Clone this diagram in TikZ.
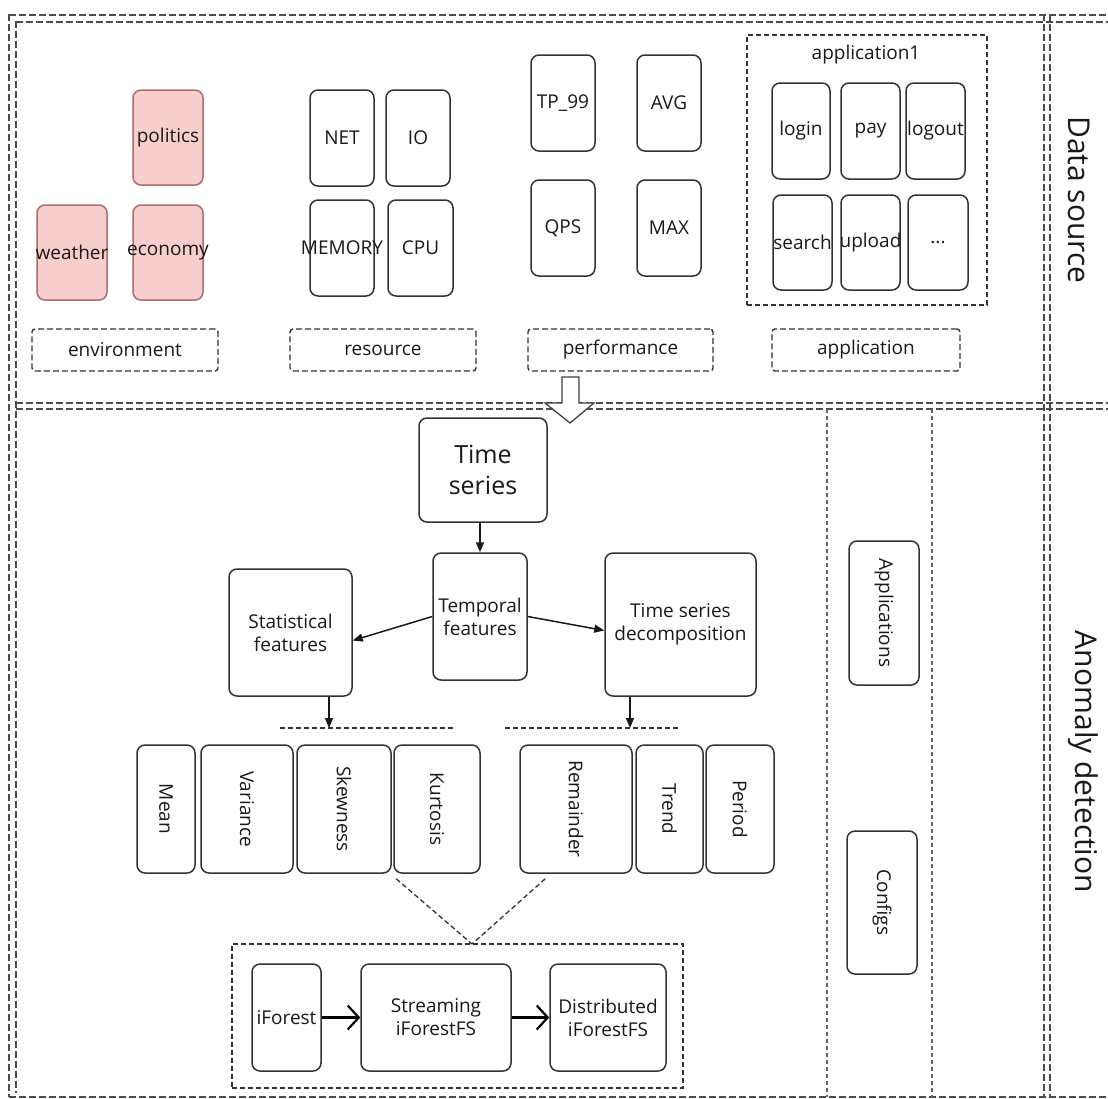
\documentclass[tikz,border=0pt]{standalone}
\usepackage{fontspec}
\setmainfont{Open Sans}
\usetikzlibrary{arrows.meta,calc}
\tikzset{
 box/.style={draw=black!80, line width=1.5pt, rounded corners=8pt, inner sep=0pt, fill=white},
 pinkbox/.style={box, draw={rgb,255:red,170;green,110;blue,110}, fill={rgb,255:red,248;green,206;blue,204}},
 tagbox/.style={draw=black!80, line width=1.4pt, dash pattern=on 6pt off 3pt, rounded corners=3pt, inner sep=0pt},
 grpbox/.style={draw=black!80, line width=1.4pt, dash pattern=on 5pt off 3pt, inner sep=0pt},
 lbl/.style={font=\fontsize{19}{23}\selectfont, text=black!90, inner sep=0pt, align=center},
 outerline/.style={draw=black!70, line width=1.6pt, dash pattern=on 7pt off 3pt},
 lane/.style={draw=black!60, line width=1.4pt, dash pattern=on 4pt off 3pt},
 thindash/.style={draw=black!80, line width=1.3pt, dash pattern=on 5pt off 3pt},
 arr/.style={draw=black!90, line width=1.5pt, -{Triangle[length=10pt,width=8pt]}},
 barr/.style={draw=black, line width=2.8pt, -{Straight Barb[length=11pt,width=24pt,line width=2.2pt]}},
 sectitle/.style={font=\fontsize{30}{36}\selectfont, rotate=-90, inner sep=0pt, text=black!90},
}
\newcommand{\bx}[7]{\node[#1, minimum width={#5-#3}, minimum height={#6-#4}] (#2) at ({(#3+#5)/2},{(#4+#6)/2}) {};
 \node[lbl] (#2t) at (#2.center) {#7};}
\newcommand{\rbx}[7]{\node[#1, minimum width={#5-#3}, minimum height={#6-#4}] (#2) at ({(#3+#5)/2},{(#4+#6)/2}) {};
 \node[lbl, rotate=-90] (#2t) at (#2.center) {#7};}
\begin{document}
\begin{tikzpicture}[x=1pt,y=-1pt]
\useasboundingbox (0,0) rectangle (1108,1098);
% frame lines
\draw[outerline] (9,14) -- (9,1097);
\draw[outerline] (16,21) -- (16,1093);
\draw[outerline] (9,15) -- (1108,15);
\draw[outerline] (16,22) -- (1108,22);
\draw[outerline] (16,403) -- (1108,403);
\draw[outerline] (16,409) -- (1108,409);
\draw[outerline] (9,1097) -- (1108,1097);
\draw[outerline] (1044,14) -- (1044,1097);
\draw[outerline] (1050,14) -- (1050,1097);
\draw[lane] (827,409) -- (827,1097);
\draw[lane] (932,409) -- (932,1097);
% titles
\node[sectitle] (ds) at (1079,200) {Data source};
\node[sectitle] (ad) at (1083,762) {Anomaly detection};
% environment
\bx{pinkbox}{pol}{133}{90}{203}{185}{politics}
\bx{pinkbox}{wea}{37}{205}{107}{300}{weather}
\bx{pinkbox}{eco}{133}{205}{203}{300}{economy}
\bx{tagbox}{env}{32}{329}{218}{371}{environment}
% resource
\bx{box}{net}{310}{90}{374}{186}{NET}
\bx{box}{io}{386}{90}{450}{186}{IO}
\bx{box}{mem}{310}{200}{374}{296}{MEMORY}
\bx{box}{cpu}{388}{200}{453}{296}{CPU}
\bx{tagbox}{res}{290}{329}{476}{371}{resource}
% performance
\bx{box}{tp}{531}{55}{595}{151}{TP\_99}
\bx{box}{avg}{637}{55}{701}{151}{AVG}
\bx{box}{qps}{531}{180}{595}{276}{QPS}
\bx{box}{max}{637}{180}{701}{276}{MAX}
\bx{tagbox}{perf}{528}{329}{713}{371}{performance}
% application
\bx{grpbox}{appone}{747}{35}{987}{305}{}
\node[lbl] (apponet) at (866,55) {application1};
\bx{box}{login}{772}{83}{830}{179}{login}
\bx{box}{pay}{841}{83}{900}{179}{pay}
\bx{box}{logout}{906}{83}{965}{179}{logout}
\bx{box}{search}{773}{195}{832}{290}{search}
\bx{box}{upload}{841}{195}{900}{290}{upload}
\bx{box}{more}{908}{195}{968}{290}{...}
\bx{tagbox}{app}{772}{329}{960}{371}{application}
% hollow arrow
\draw[draw=black!75, line width=1.3pt, fill=white] (562,377) -- (579,377) -- (579,403) -- (594,403) -- (570,423) -- (545,403) -- (562,403) -- cycle;
% anomaly detection
\bx{box}{ts}{419}{418}{547}{522}{}
\node[lbl, font=\fontsize{25}{31}\selectfont] (tstx) at (ts.center) {Time\\series};
\bx{box}{tf}{433}{553}{527}{680}{Temporal\\features}
\bx{box}{sf}{229}{569}{352}{696}{Statistical\\features}
\bx{box}{tsd}{605}{553}{756}{696}{Time series\\decomposition}
\draw[arr] (tf.north |- ts.south) -- (tf.north);
\draw[arr] (tf.west) -- ([yshift=-8pt]sf.east);
\draw[arr] (tf.east) -- ([yshift=-6pt]tsd.west);
\coordinate (bla) at (280,728);
\coordinate (blb) at (455,728);
\coordinate (bra) at (505,728);
\coordinate (brb) at (680,728);
\draw[thindash] (bla) -- (blb);
\draw[thindash] (bra) -- (brb);
\coordinate (sfa) at (329,728);
\coordinate (tsa) at (630,728);
\draw[arr] (sf.south -| sfa) -- (sfa);
\draw[arr] (tsd.south -| tsa) -- (tsa);
% feature boxes
\rbx{box}{mean}{137}{745}{195}{873}{Mean}
\rbx{box}{var}{201}{745}{293}{873}{Variance}
\rbx{box}{skew}{297}{745}{391}{873}{Skewness}
\rbx{box}{kurt}{394}{745}{480}{873}{Kurtosis}
\rbx{box}{rem}{520}{745}{632}{873}{Remainder}
\rbx{box}{trend}{636}{745}{703}{873}{Trend}
\rbx{box}{per}{706}{745}{774}{873}{Period}
% side boxes
\rbx{box}{apps}{849}{541}{919}{685}{Applications}
\rbx{box}{cfg}{847}{831}{917}{974}{Configs}
% iForest group
\bx{grpbox}{ifc}{232}{944}{683}{1088}{}
\coordinate (jn) at (472,944);
\draw[thindash] ([xshift=3pt,yshift=-5pt]kurt.south west) -- (jn);
\draw[thindash] ([xshift=26pt,yshift=-5pt]rem.south west) -- (jn);
\bx{box}{ifo}{252}{964}{321}{1071}{iForest}
\bx{box}{str}{361}{964}{511}{1071}{Streaming\\iForestFS}
\bx{box}{dis}{550}{964}{666}{1071}{Distributed\\iForestFS}
\draw[barr] (ifo.east) -- (str.west);
\draw[barr] (str.east) -- (dis.west);
\end{tikzpicture}
\end{document}
